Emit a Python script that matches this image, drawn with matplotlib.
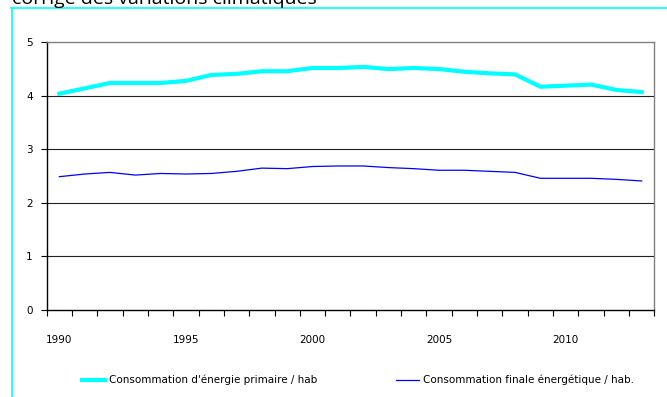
import matplotlib
matplotlib.use('Agg')
import matplotlib.pyplot as plt
from matplotlib.lines import Line2D
from matplotlib.ticker import FixedLocator

plt.rcParams['font.family'] = ['Liberation Sans Narrow', 'DejaVu Sans']

years = list(range(1990, 2014))
primaire = [4.04, 4.14, 4.24, 4.24, 4.24, 4.28, 4.39, 4.41, 4.46, 4.46, 4.52, 4.52,
            4.54, 4.50, 4.52, 4.50, 4.45, 4.42, 4.40, 4.17, 4.19, 4.21, 4.11, 4.07]
finale = [2.49, 2.54, 2.57, 2.52, 2.55, 2.54, 2.55, 2.59, 2.65, 2.64, 2.68, 2.69,
          2.69, 2.66, 2.64, 2.61, 2.61, 2.59, 2.57, 2.46, 2.46, 2.46, 2.44, 2.41]
label_years = [1990, 1995, 2000, 2005, 2010]
titre = 'corrigé des variations climatiques'
noms = ["Consommation d'énergie primaire / hab", 'Consommation finale énergétique / hab.']

W, H = 667, 397
fig = plt.figure(figsize=(W / 100, H / 100), dpi=100)
ax = fig.add_axes([46.7 / W, 1 - 310 / H, (654.3 - 46.7) / W, (310 - 42.3) / H])

x = list(range(len(years)))
ax.plot(x, primaire, color='#00FFFF', lw=3.0, solid_joinstyle='round', label=noms[0])
ax.plot(x, finale, color='#0000FF', lw=0.9, label=noms[1])

ax.set_xlim(-0.5, len(years) - 0.5)
ax.set_ylim(0, 5)
ax.set_yticks([0, 1, 2, 3, 4, 5])
for v in [1, 2, 3, 4]:
    ax.axhline(v, color='#222222', lw=0.8, zorder=0)

ax.xaxis.set_major_locator(FixedLocator([years.index(y) for y in label_years]))
ax.set_xticklabels([str(y) for y in label_years])
ax.xaxis.set_minor_locator(FixedLocator([i - 0.5 for i in range(len(years) + 1)]))
ax.tick_params(axis='x', which='major', length=0, pad=18, labelsize=7.5)
ax.tick_params(axis='x', which='minor', length=4, width=0.8, color='black', direction='out')
ax.tick_params(axis='y', length=4, width=0.8, pad=6, labelsize=7.5)

for s in ['left', 'bottom']:
    ax.spines[s].set_color('black')
    ax.spines[s].set_linewidth(1.0)
for s in ['top', 'right']:
    ax.spines[s].set_color('#808080')
    ax.spines[s].set_linewidth(1.0)

fig.legend(loc='center', bbox_to_anchor=(358 / W, 1 - 380 / H), ncol=2, frameon=False,
           fontsize=7.5, handlelength=2.2, handletextpad=0.4, columnspacing=7.5)

# cadre cyan et titre coupé en haut
fig.add_artist(Line2D([11 / W, 1], [1 - 8 / H, 1 - 8 / H], color='#00FFFF', lw=1.2))
fig.add_artist(Line2D([11.5 / W, 11.5 / W], [0, 1 - 8 / H], color='#00FFFF', lw=1.2))
fig.text(12 / W, 1 - 3.5 / H, titre, fontsize=14, va='baseline', ha='left',
         family=['Open Sans', 'DejaVu Sans'])

fig.savefig('out.png', dpi=100, facecolor='white')
